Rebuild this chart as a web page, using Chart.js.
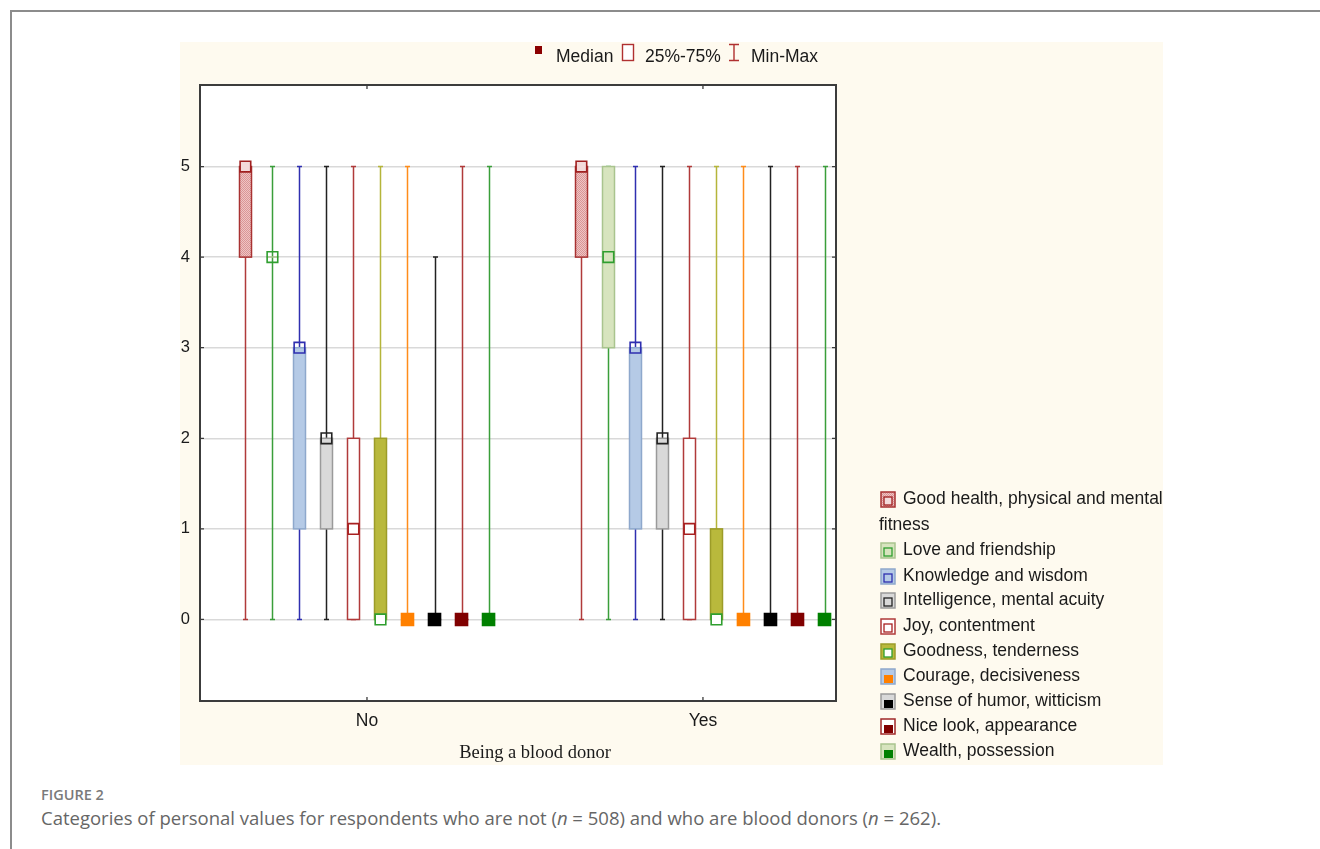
<!DOCTYPE html>
<html lang="en">
<head>
  <meta charset="UTF-8">
  <title>Figure 2</title>
  <script src="https://cdn.jsdelivr.net/npm/chart.js"></script>
  <style>
    body {
      margin: 0;
      width: 1320px;
      height: 849px;
      overflow: hidden;
      position: relative;
      background: #fff;
      font-family: "Liberation Sans", Arial, sans-serif;
    }
    .frame {
      position: absolute;
      left: 10px;
      top: 10px;
      width: 1400px;
      height: 900px;
      border-left: 2px solid #8c8c8c;
      border-top: 2px solid #8c8c8c;
    }
    #chart {
      position: absolute;
      left: 180px;
      top: 42px;
      background: #fefaef;
    }
    .fig-label {
      position: absolute;
      left: 41px;
      top: 785px;
      font-family: "Open Sans", sans-serif;
      font-size: 14.5px;
      font-weight: 600;
      color: #7a7a7a;
    }
    .fig-caption {
      position: absolute;
      left: 41px;
      top: 805px;
      font-family: "Open Sans", sans-serif;
      font-size: 18.5px;
      color: #666;
      white-space: nowrap;
    }
  </style>
</head>
<body>
  <div class="frame"></div>
  <canvas id="chart" width="983" height="723"></canvas>
  <div class="fig-label">FIGURE 2</div>
  <div class="fig-caption">Categories of personal values for respondents who are not (<i>n</i> = 508) and who are blood donors (<i>n</i> = 262).</div>
  <script>
    const groups = ['No', 'Yes'];
    const seriesNames = [
      'Good health, physical and mental fitness',
      'Love and friendship',
      'Knowledge and wisdom',
      'Intelligence, mental acuity',
      'Joy, contentment',
      'Goodness, tenderness',
      'Courage, decisiveness',
      'Sense of humor, witticism',
      'Nice look, appearance',
      'Wealth, possession'
    ];
    // [No, Yes] for each series
    const minVals    = [[0, 0], [0, 0], [0, 0], [0, 0], [0, 0], [0, 0], [0, 0], [0, 0], [0, 0], [0, 0]];
    const q1Vals     = [[4, 4], [4, 3], [1, 1], [1, 1], [0, 0], [0, 0], [0, 0], [0, 0], [0, 0], [0, 0]];
    const medianVals = [[5, 5], [4, 4], [3, 3], [2, 2], [1, 1], [0, 0], [0, 0], [0, 0], [0, 0], [0, 0]];
    const q3Vals     = [[5, 5], [4, 5], [3, 3], [2, 2], [2, 2], [2, 1], [0, 0], [0, 0], [0, 0], [0, 0]];
    const maxVals    = [[5, 5], [5, 5], [5, 5], [5, 5], [5, 5], [5, 5], [5, 5], [4, 5], [5, 5], [5, 5]];
    const yTicks = [0, 1, 2, 3, 4, 5];

    const whiskerColors = ['#b03a3a', '#3a9e3a', '#2f2fb0', '#222222', '#b03a3a', '#b5b53a', '#ff8c1a', '#222222', '#b03a3a', '#3a9e3a'];
    const boxStroke = ['#a83232', '#a9c48e', '#8ea8cc', '#9a9a9a', '#b03a3a', '#9c9c28', '#8ea8cc', '#9a9a9a', '#a02828', '#a9c48e'];
    const boxFillColors = [null, '#d7e4be', '#b5cae6', '#d9d9d9', '#ffffff', '#b9b93c', '#b5cae6', '#d9d9d9', '#ffffff', '#d7e4be'];
    const medianStroke = ['#a02020', '#2f9e2f', '#2f2fb0', '#222222', '#a82020', '#2f9e2f', '#ff8000', '#000000', '#800000', '#008000'];
    const medianFill = ['#f3dada', 'rgba(0,0,0,0)', 'rgba(0,0,0,0)', 'rgba(0,0,0,0)', 'rgba(0,0,0,0)', '#ffffff', '#ff8000', '#000000', '#800000', '#008000'];

    const slotWidth = 0.0804;
    const slotOffset = s => (s - 4.5) * slotWidth;

    // dotted pink fill for the first series
    const patCanvas = document.createElement('canvas');
    patCanvas.width = 2;
    patCanvas.height = 2;
    const pctx = patCanvas.getContext('2d');
    pctx.fillStyle = '#efc4c4';
    pctx.fillRect(0, 0, 2, 2);
    pctx.fillStyle = '#d99696';
    pctx.fillRect(0, 0, 1, 1);
    pctx.fillRect(1, 1, 1, 1);

    const canvas = document.getElementById('chart');
    const ctx0 = canvas.getContext('2d');
    const hatch = ctx0.createPattern(patCanvas, 'repeat');
    const boxFill = s => boxFillColors[s] || hatch;
    const textFont = '17.5px "Liberation Sans", Arial, sans-serif';

    function drawLegendIcon(ctx, s, cx, cy) {
      ctx.fillStyle = boxFill(s);
      ctx.fillRect(cx - 7, cy - 7, 14, 15);
      ctx.strokeStyle = boxStroke[s];
      ctx.lineWidth = 1.5;
      ctx.strokeRect(cx - 7, cy - 7, 14, 15);
      if (s >= 6) {
        ctx.fillStyle = medianFill[s];
        ctx.fillRect(cx - 4, cy - 1, 9, 8);
      } else {
        if (s === 0 || s === 5) {
          ctx.fillStyle = medianFill[s];
          ctx.fillRect(cx - 4, cy - 2, 8, 8);
        }
        ctx.strokeStyle = medianStroke[s];
        ctx.lineWidth = 1.3;
        ctx.strokeRect(cx - 4, cy - 2, 8, 8);
      }
    }

    const boxPlugin = {
      id: 'boxes',
      beforeDraw(chart) {
        const { ctx, chartArea: a } = chart;
        ctx.save();
        ctx.fillStyle = '#ffffff';
        ctx.fillRect(a.left, a.top, a.right - a.left, a.bottom - a.top);
        ctx.restore();
      },
      beforeDatasetsDraw(chart) {
        const { ctx, scales: { x, y } } = chart;
        ctx.save();
        seriesNames.forEach((name, s) => {
          groups.forEach((g, gi) => {
            const px = Math.round(x.getPixelForValue(gi + slotOffset(s))) + 0.5;
            const yMin = y.getPixelForValue(minVals[s][gi]);
            const yMax = y.getPixelForValue(maxVals[s][gi]);
            const yQ1 = y.getPixelForValue(q1Vals[s][gi]);
            const yQ3 = y.getPixelForValue(q3Vals[s][gi]);
            ctx.strokeStyle = whiskerColors[s];
            ctx.lineWidth = 1.5;
            ctx.beginPath();
            ctx.moveTo(px, yMax);
            ctx.lineTo(px, yMin);
            ctx.moveTo(px - 2.5, yMax);
            ctx.lineTo(px + 2.5, yMax);
            ctx.moveTo(px - 2.5, yMin);
            ctx.lineTo(px + 2.5, yMin);
            ctx.stroke();
            ctx.fillStyle = boxFill(s);
            ctx.fillRect(px - 6, yQ3, 12, yQ1 - yQ3);
            ctx.strokeStyle = boxStroke[s];
            ctx.lineWidth = 1.5;
            ctx.strokeRect(px - 6, yQ3, 12, yQ1 - yQ3);
          });
        });
        ctx.restore();
      },
      afterDraw(chart) {
        const { ctx, chartArea: a, scales: { x, y } } = chart;
        ctx.save();
        // plot frame
        ctx.strokeStyle = '#3c3c3c';
        ctx.lineWidth = 2;
        ctx.strokeRect(a.left, a.top, a.right - a.left, a.bottom - a.top);
        // inward tick marks
        ctx.lineWidth = 1.3;
        ctx.beginPath();
        groups.forEach((g, gi) => {
          const px = x.getPixelForValue(gi);
          ctx.moveTo(px, a.top); ctx.lineTo(px, a.top + 4);
          ctx.moveTo(px, a.bottom); ctx.lineTo(px, a.bottom - 4);
        });
        yTicks.forEach(v => {
          const py = y.getPixelForValue(v);
          ctx.moveTo(a.left, py); ctx.lineTo(a.left + 4, py);
          ctx.moveTo(a.right, py); ctx.lineTo(a.right - 4, py);
        });
        ctx.stroke();

        // x axis title
        ctx.fillStyle = '#1a1a1a';
        ctx.font = '18.5px "Liberation Serif", "Times New Roman", serif';
        ctx.textAlign = 'center';
        ctx.textBaseline = 'middle';
        ctx.fillText('Being a blood donor', 355, 711);

        // top legend
        ctx.font = textFont;
        ctx.textAlign = 'left';
        ctx.fillStyle = '#8b0000';
        ctx.fillRect(355, 4, 7, 8);
        ctx.fillStyle = '#1a1a1a';
        ctx.fillText('Median', 376, 15);
        ctx.fillStyle = '#ffffff';
        ctx.fillRect(442.5, 2.5, 11, 16);
        ctx.strokeStyle = '#b03030';
        ctx.lineWidth = 1.4;
        ctx.strokeRect(442.5, 2.5, 11, 16);
        ctx.fillStyle = '#1a1a1a';
        ctx.fillText('25%-75%', 465, 15);
        ctx.beginPath();
        ctx.moveTo(549, 2.5); ctx.lineTo(559, 2.5);
        ctx.moveTo(554, 2.5); ctx.lineTo(554, 18.5);
        ctx.moveTo(549, 18.5); ctx.lineTo(559, 18.5);
        ctx.stroke();
        ctx.fillText('Min-Max', 571, 15);

        // right legend
        const rowY = [457, 508, 534, 558, 584, 609, 634, 659, 684, 709];
        seriesNames.forEach((name, s) => {
          drawLegendIcon(ctx, s, 708, rowY[s]);
          ctx.fillStyle = '#1a1a1a';
          if (s === 0) {
            ctx.fillText('Good health, physical and mental', 723, rowY[s]);
            ctx.fillText('fitness', 699, rowY[s] + 26);
          } else {
            ctx.fillText(name, 723, rowY[s]);
          }
        });
        ctx.restore();
      }
    };

    const datasets = seriesNames.map((name, s) => ({
      label: name,
      data: groups.map((g, gi) => ({ x: gi + slotOffset(s), y: medianVals[s][gi] })),
      pointStyle: 'rect',
      pointRadius: s >= 6 ? 8.5 : 7.5,
      pointBorderWidth: 1.6,
      pointBorderColor: medianStroke[s],
      pointBackgroundColor: medianFill[s],
      showLine: false
    }));

    new Chart(canvas, {
      type: 'scatter',
      data: { datasets: datasets },
      plugins: [boxPlugin],
      options: {
        responsive: false,
        animation: false,
        events: [],
        layout: { padding: { left: 0, top: 43, right: 327, bottom: 0 } },
        plugins: {
          legend: { display: false },
          tooltip: { enabled: false }
        },
        scales: {
          x: {
            type: 'linear',
            min: -0.497,
            max: 1.396,
            afterFit: s => { s.height = 64; },
            afterBuildTicks: s => { s.ticks = groups.map((g, gi) => ({ value: gi })); },
            grid: { display: false, drawTicks: false },
            border: { display: false },
            ticks: {
              padding: 10,
              color: '#1a1a1a',
              font: { family: '"Liberation Sans", Arial, sans-serif', size: 17.5 },
              callback: v => groups[v]
            }
          },
          y: {
            min: -0.9,
            max: 5.9,
            afterFit: s => { s.width = 20; },
            afterBuildTicks: s => { s.ticks = yTicks.map(v => ({ value: v })); },
            grid: { color: '#d9d9d9', lineWidth: 1.5, drawTicks: false },
            border: { display: false },
            ticks: {
              padding: 10,
              color: '#1a1a1a',
              font: { family: '"Liberation Sans", Arial, sans-serif', size: 16.5 }
            }
          }
        }
      }
    });
  </script>
</body>
</html>
